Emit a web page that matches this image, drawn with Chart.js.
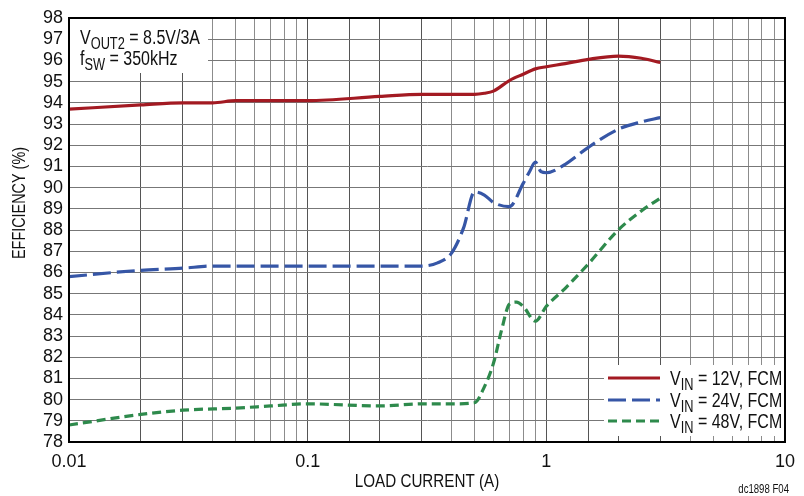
<!DOCTYPE html>
<html>
<head>
<meta charset="utf-8">
<script src="https://cdn.jsdelivr.net/npm/chart.js@4/dist/chart.umd.min.js"></script>
<style>
  html, body { margin: 0; padding: 0; background: #fff; }
  #wrap { width: 804px; height: 496px; position: relative; }
</style>
</head>
<body>
<div id="wrap"><canvas id="chart"></canvas></div>
<script>
// Efficiency vs load current
const current12 = [0.01, 0.02, 0.03, 0.04, 0.05, 0.07, 0.1, 0.2, 0.3, 0.5, 0.55, 0.6, 0.7, 0.8, 0.9, 1.0, 1.2, 1.5, 2.0, 2.5, 3.0];
const eff12 = [93.7, 93.9, 94.0, 94.0, 94.1, 94.1, 94.1, 94.3, 94.4, 94.4, 94.45, 94.55, 95.05, 95.35, 95.6, 95.7, 95.85, 96.05, 96.2, 96.1, 95.9];

const current24 = [0.01, 0.02, 0.03, 0.04, 0.05, 0.1, 0.2, 0.3, 0.35, 0.4, 0.45, 0.5, 0.55, 0.6, 0.7, 0.8, 0.85, 0.9, 0.95, 1.0, 1.2, 1.5, 2.0, 2.5, 3.0];
const eff24 = [85.8, 86.1, 86.2, 86.3, 86.3, 86.3, 86.3, 86.3, 86.45, 86.9, 88.1, 89.8, 89.65, 89.3, 89.1, 90.2, 90.75, 91.2, 90.75, 90.7, 91.1, 91.9, 92.75, 93.1, 93.3];

const current48 = [0.01, 0.02, 0.03, 0.05, 0.07, 0.1, 0.2, 0.3, 0.4, 0.5, 0.55, 0.6, 0.65, 0.7, 0.75, 0.8, 0.9, 1.0, 1.2, 1.5, 2.0, 2.5, 3.0];
const eff48 = [78.8, 79.3, 79.5, 79.6, 79.7, 79.8, 79.7, 79.8, 79.8, 79.85, 80.6, 81.7, 83.3, 84.5, 84.6, 84.4, 83.7, 84.4, 85.25, 86.4, 88.0, 88.9, 89.5];

const seriesLabels = ['12V, FCM', '24V, FCM', '48V, FCM'];
const xTickLabels = ['0.01', '0.1', '1', '10'];

const FONT = '"Liberation Sans", Arial, sans-serif';
const NARROW = 0.8;   // squeeze factor to get a condensed look
const RED = '#a31a22';
const BLUE = '#3656a6';
const GREEN = '#2e8a4c';
const styles = [
    { color: RED, dash: [] },
    { color: BLUE, dash: [18, 6] },
    { color: GREEN, dash: [9, 5] }
];

function toPoints(xs, ys) {
    return xs.map((x, i) => ({ x: x, y: ys[i] }));
}

// draw a run of [text, isSub] parts starting at x on baseline y, condensed
function drawParts(ctx, parts, x, y, size) {
    ctx.save();
    ctx.translate(x, y);
    ctx.scale(NARROW, 1);
    let cx = 0;
    parts.forEach(([text, sub]) => {
        ctx.font = (sub ? Math.round(size * 0.8) : size) + 'px ' + FONT;
        ctx.fillText(text, cx, sub ? 5 : 0);
        cx += ctx.measureText(text).width;
    });
    ctx.restore();
}

function drawNarrow(ctx, text, x, y, size) {
    ctx.save();
    ctx.translate(x, y);
    ctx.scale(NARROW, 1);
    ctx.font = size + 'px ' + FONT;
    ctx.textAlign = 'center';
    ctx.fillText(text, 0, 0);
    ctx.restore();
}

const decorations = {
    id: 'decorations',
    beforeDatasetsDraw(chart) {
        const ctx = chart.ctx;
        const area = chart.chartArea;
        ctx.save();
        ctx.fillStyle = '#fff';
        // note box top left and legend box bottom right hide the grid
        ctx.fillRect(area.left, area.top, 139, 55);
        ctx.fillRect(604, 365, area.right - 604, 71);
        ctx.restore();
    },
    afterDraw(chart) {
        const ctx = chart.ctx;
        const area = chart.chartArea;
        ctx.save();
        ctx.fillStyle = '#111';
        ctx.textAlign = 'left';
        ctx.textBaseline = 'alphabetic';

        drawParts(ctx, [['V', false], ['OUT2', true], [' = 8.5V/3A', false]], 80, 44, 20);
        drawParts(ctx, [['f', false], ['SW', true], [' = 350kHz', false]], 80, 65, 20);

        // legend
        const rows = [378, 400, 421];
        seriesLabels.forEach((lab, i) => {
            ctx.strokeStyle = styles[i].color;
            ctx.lineWidth = 3;
            ctx.setLineDash(styles[i].dash);
            ctx.beginPath();
            ctx.moveTo(608, rows[i]);
            ctx.lineTo(660, rows[i]);
            ctx.stroke();
            ctx.setLineDash([]);
            drawParts(ctx, [['V', false], ['IN', true], [' = ' + lab, false]], 670, rows[i] + 7, 20);
        });

        // frame
        ctx.strokeStyle = '#000';
        ctx.lineWidth = 2;
        ctx.strokeRect(area.left, area.top, area.right - area.left, area.bottom - area.top);

        // axis titles
        drawNarrow(ctx, 'LOAD CURRENT (A)', 427, 487, 19);
        ctx.save();
        ctx.translate(25, 203);
        ctx.rotate(-Math.PI / 2);
        drawNarrow(ctx, 'EFFICIENCY (%)', 0, 0, 18);
        ctx.restore();

        ctx.save();
        ctx.translate(789, 493);
        ctx.scale(NARROW, 1);
        ctx.font = '12px ' + FONT;
        ctx.textAlign = 'right';
        ctx.fillText('dc1898 F04', 0, 0);
        ctx.restore();
        ctx.restore();
    }
};

function isDecade(v) {
    const l = Math.log10(v);
    return Math.abs(l - Math.round(l)) < 1e-6;
}

function buildDataset(label, xs, ys, i) {
    return {
        label: label,
        data: toPoints(xs, ys),
        borderColor: styles[i].color,
        borderWidth: 3.2,
        borderDash: styles[i].dash,
        pointRadius: 0,
        fill: false,
        cubicInterpolationMode: 'monotone'
    };
}

const chart = new Chart(document.getElementById('chart'), {
    type: 'line',
    data: {
        datasets: [
            buildDataset(seriesLabels[0], current12, eff12, 0),
            buildDataset(seriesLabels[1], current24, eff24, 1),
            buildDataset(seriesLabels[2], current48, eff48, 2)
        ]
    },
    options: {
        responsive: true,
        maintainAspectRatio: false,
        animation: false,
        layout: { padding: { top: 18, right: 14, left: 0, bottom: 0 } },
        plugins: {
            legend: { display: false },
            tooltip: { enabled: false }
        },
        scales: {
            x: {
                type: 'logarithmic',
                min: 0.01,
                max: 10,
                afterFit(scale) { scale.height = 54; },
                border: { color: '#000', width: 2 },
                grid: {
                    drawTicks: false,
                    lineWidth: 1,
                    color(ctx) {
                        const v = ctx.tick ? ctx.tick.value : 1;
                        const m = v / Math.pow(10, Math.floor(Math.log10(v) + 1e-9));
                        return (m < 3.5) ? '#555' : '#8c8c8c';
                    }
                },
                ticks: {
                    autoSkip: false,
                    maxRotation: 0,
                    padding: 9,
                    color: '#111',
                    font: { family: FONT, size: 18 },
                    callback(value) {
                        if (!isDecade(value)) return '';
                        const idx = Math.round(Math.log10(value)) + 2;
                        return xTickLabels[idx];
                    }
                }
            },
            y: {
                min: 78,
                max: 98,
                afterFit(scale) { scale.width = 69; },
                border: { color: '#000', width: 2 },
                grid: { drawTicks: false, color: '#777', lineWidth: 1 },
                ticks: {
                    autoSkip: false,
                    stepSize: 1,
                    padding: 6,
                    color: '#111',
                    font: { family: FONT, size: 18 }
                }
            }
        }
    },
    plugins: [decorations]
});
</script>
</body>
</html>
